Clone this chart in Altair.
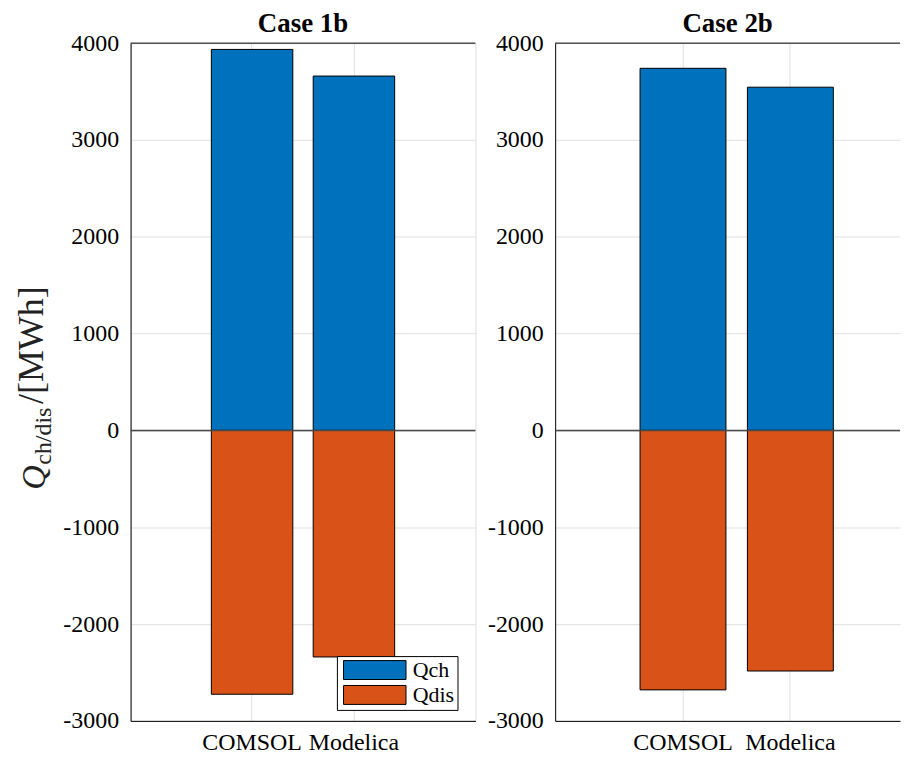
import altair as alt
import pandas as pd

# ---- data ----
models = ["COMSOL", "Modelica"]
series = ["Qch", "Qdis"]
case1b_ch = [3935, 3660]
case1b_dis = [-2725, -2340]
case2b_ch = [3740, 3545]
case2b_dis = [-2680, -2485]
y_ticks = [-3000, -2000, -1000, 0, 1000, 2000, 3000, 4000]

BLUE = "#0072BD"
ORANGE = "#D95319"
FONT = "Liberation Serif"
GRID = "#e0e0e0"
PLOT_H = 680


def frame(ch, dis):
    rows = []
    for m, c, d in zip(models, ch, dis):
        rows.append({"model": m, "series": series[0], "value": c})
        rows.append({"model": m, "series": series[1], "value": d})
    return pd.DataFrame(rows)


def panel(df, title, width, pad_outer, align, show_legend, left_title):
    xscale = alt.Scale(domain=models, paddingInner=0.2, paddingOuter=pad_outer, align=align)
    yscale = alt.Scale(domain=[-3000, 4000], nice=False)
    color_legend = None
    if show_legend:
        color_legend = alt.Legend(
            title=None,
            orient="none",
            legendX=207,
            legendY=615,
            symbolType="M-3.3,-1H3.3V1H-3.3Z",
            symbolSize=361,
            symbolOffset=24,
            symbolStrokeColor="black",
            symbolStrokeWidth=1,
            symbolOpacity=1,
            labelFont=FONT,
            labelFontSize=22,
            labelOffset=27,
            labelColor="black",
            rowPadding=1,
            padding=3,
            strokeColor="black",
            fillColor="white",
        )
    bars = alt.Chart(df).mark_bar(stroke="black", strokeWidth=1, opacity=1).encode(
        x=alt.X("model:N", scale=xscale, sort=models,
                axis=alt.Axis(title=None, labelAngle=0, labelFont=FONT, labelFontSize=24,
                              labelColor="black", labelPadding=10, ticks=False,
                              grid=True, gridColor=GRID, bandPosition=0.5,
                              domain=True, domainColor="black")),
        y=alt.Y("value:Q", scale=yscale, stack=None,
                axis=alt.Axis(title=None, values=y_ticks, labelExpr="toString(datum.value)",
                              labelFont=FONT, labelFontSize=24, labelColor="black",
                              labelPadding=12, ticks=False, grid=True, gridColor=GRID,
                              domain=True, domainColor="black")),
        color=alt.Color("series:N", scale=alt.Scale(domain=series, range=[BLUE, ORANGE]),
                        legend=color_legend),
    )
    zero = alt.Chart().mark_rule(color="#4a4a4a", strokeWidth=1.5).encode(y=alt.datum(0))
    top = alt.Chart().mark_rule(color="black", strokeWidth=1).encode(y=alt.datum(4000))
    layers = [bars, zero, top]
    if left_title:
        t1 = alt.Chart().mark_text(text="Q", font=FONT, fontSize=34, fontStyle="italic",
                                   angle=270, align="left", baseline="alphabetic",
                                   color="#222222").encode(x=alt.value(-86), y=alt.value(448))
        t2 = alt.Chart().mark_text(text="ch/dis", font=FONT, fontSize=24,
                                   angle=270, align="left", baseline="alphabetic",
                                   color="#222222").encode(x=alt.value(-80), y=alt.value(423))
        t3 = alt.Chart().mark_text(text="/[MWh]", font=FONT, fontSize=36,
                                   angle=270, align="left", baseline="alphabetic",
                                   color="#222222").encode(x=alt.value(-88), y=alt.value(362))
        layers += [t1, t2, t3]
    return alt.layer(*layers).properties(
        width=width, height=PLOT_H,
        title=alt.TitleParams(title, font=FONT, fontSize=27, fontWeight="bold",
                              color="black", offset=-7, anchor="middle", frame="group"),
    )


left = panel(frame(case1b_ch, case1b_dis), "Case 1b", 346, 0.793, 0.5, True, True)
right = panel(frame(case2b_ch, case2b_dis), "Case 2b", 346, 0.706, 0.56, False, False) \
    .properties(view=alt.ViewBackground(stroke="transparent"))

chart = alt.hconcat(left, right, spacing=9).resolve_legend(color="independent").properties(
    padding={"left": 5, "top": 0, "right": 0, "bottom": 0}
).configure_view(stroke="black", strokeWidth=1).configure(background="white")

chart.save("out.html", embed_options={"renderer": "svg", "actions": False})
